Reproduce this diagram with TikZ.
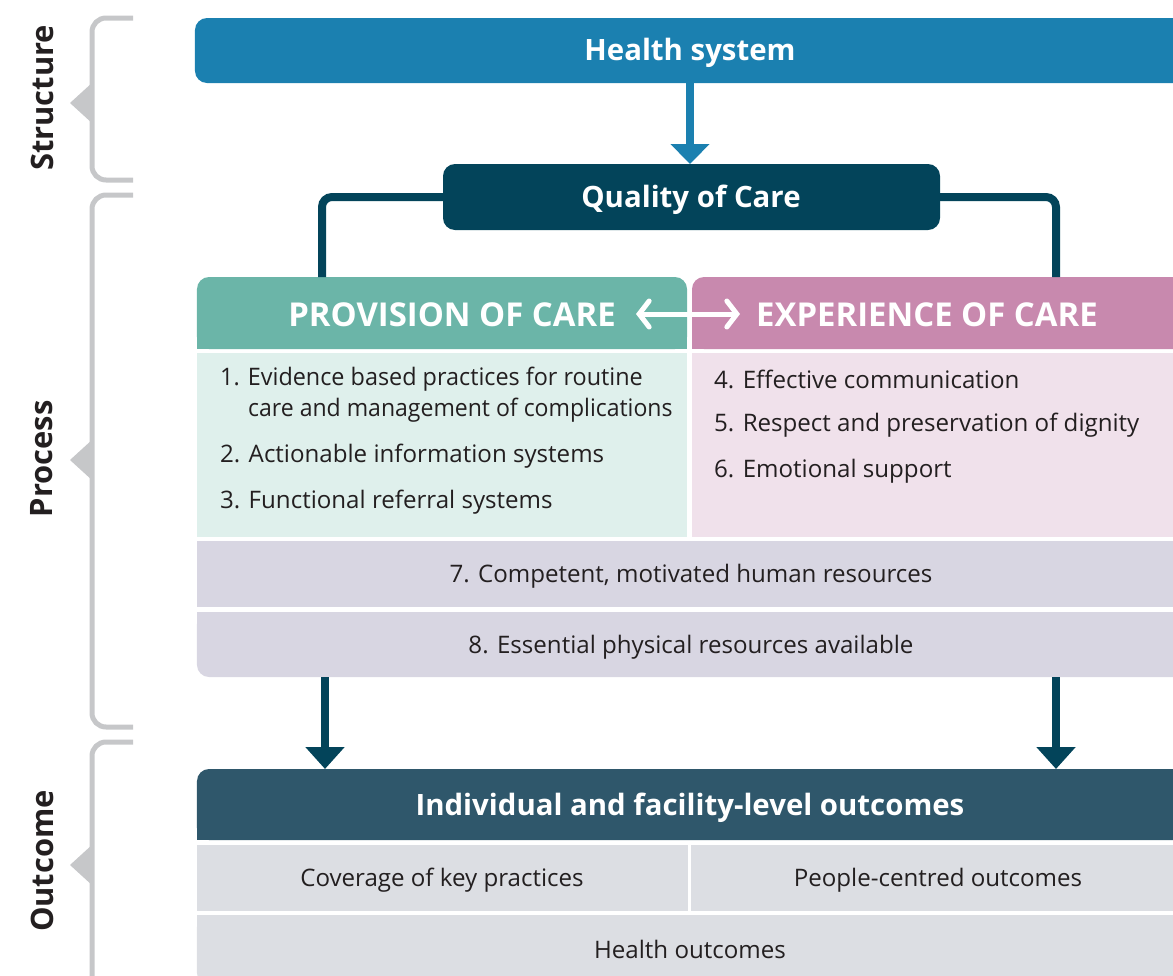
\documentclass[tikz,border=0pt]{standalone}
\usepackage{fontspec}
\setmainfont{Open Sans}
\usetikzlibrary{arrows.meta}
\definecolor{hsblue}{HTML}{1B80B0}
\definecolor{qcteal}{HTML}{03445A}
\definecolor{provc}{HTML}{6BB5A8}
\definecolor{expc}{HTML}{C889AE}
\definecolor{provl}{HTML}{DFF0EC}
\definecolor{expl}{HTML}{F0E1EB}
\definecolor{resc}{HTML}{D8D6E2}
\definecolor{outc}{HTML}{2F576B}
\definecolor{outl}{HTML}{DCDEE3}
\definecolor{brk}{HTML}{C6C7C9}
\definecolor{txt}{HTML}{231F20}
\tikzset{
  box/.style={rectangle, draw=none, inner sep=0pt, outer sep=0pt},
  headtxt/.style={font=\fontsize{29.5}{34}\selectfont\bfseries, text=white, inner sep=0pt},
  captxt/.style={font=\fontsize{33}{38}\selectfont\bfseries, text=white, inner sep=0pt},
  bodytxt/.style={font=\fontsize{24.2}{30}\selectfont, text=txt, inner sep=0pt},
  sidetxt/.style={font=\fontsize{31}{36}\selectfont\bfseries, text=txt, rotate=90, inner sep=0pt},
  bracket/.style={draw=brk, line width=5bp, rounded corners=14bp},
  conn/.style={draw=qcteal, line width=8bp, rounded corners=10bp},
  darrow/.style={draw=qcteal, line width=8bp, -{Triangle[width=38bp,length=22bp]}},
}
\begin{document}
\begin{tikzpicture}[x=1bp,y=-1bp]
\useasboundingbox (0,0) rectangle (1173,976);
\clip (0,0) rectangle (1173,976);

% brackets
\draw[bracket] (133,18) -- (92,18) -- (92,180) -- (133,180);
\fill[brk] (93,82) -- (70,103) -- (93,124) -- cycle;
\draw[bracket] (133,195) -- (92,195) -- (92,727) -- (133,727);
\fill[brk] (93,439) -- (70,460) -- (93,481) -- cycle;
\draw[bracket] (133,742) -- (92,742) -- (92,990) -- (133,990);
\fill[brk] (93,844) -- (70,865) -- (93,886) -- cycle;

\node[sidetxt] (lstruct) at (42,98) {Structure};
\node[sidetxt] (lproc) at (42,459) {Process};
\node[sidetxt] (lout) at (42,861) {Outcome};

% health system
\node[box, fill=hsblue, rounded corners=12bp, minimum width=990bp, minimum height=65bp] (hs) at (690,50.5) {};
\node[headtxt] (hst) at (690,53) {Health system};

% quality of care
\node[box, fill=qcteal, rounded corners=12bp, minimum width=497bp, minimum height=66bp] (qc) at (691.5,197) {};
\node[headtxt] (qct) at (691,200) {Quality of Care};

% provision / experience headers
\node[box, fill=provc, rounded corners=12bp, minimum width=490bp, minimum height=72bp] (prov) at (442,313) {};
\fill[provc] (prov.west) rectangle (prov.south east);
\node[box, fill=expc, rounded corners=12bp, minimum width=493bp, minimum height=72bp] (exp) at (938.5,313) {};
\fill[expc] (exp.west) rectangle (exp.south east);
\fill[expc] (exp.north) rectangle (exp.south east);
\node[captxt] (provt) at (452,315) {PROVISION OF CARE};
\node[captxt] (expt) at (927,315) {EXPERIENCE OF CARE};

% bodies
\node[box, fill=provl, minimum width=490bp, minimum height=184bp] (provb) at (442,445) {};
\node[box, fill=expl, minimum width=493bp, minimum height=184bp] (expb) at (938.5,445) {};
\node[bodytxt, anchor=west] (p1) at (220,379) {\scalebox{0.97}[1]{1. Evidence based practices for routine}};
\node[bodytxt, anchor=west] (p1b) at (248,410) {\scalebox{0.955}[1]{care and management of complications}};
\node[bodytxt, anchor=west] (p2) at (220,456) {2. Actionable information systems};
\node[bodytxt, anchor=west] (p3) at (220,502) {3. Functional referral systems};
\node[bodytxt, anchor=west] (e4) at (714,379) {4. Effective communication};
\node[bodytxt, anchor=west] (e5) at (714,425) {5. Respect and preservation of dignity};
\node[bodytxt, anchor=west] (e6) at (714,471) {6. Emotional support};

% resources
\node[box, fill=resc, minimum width=988bp, minimum height=66bp] (r7) at (691,574) {};
\node[bodytxt] (r7t) at (691,576) {7. Competent, motivated human resources};
\node[box, fill=resc, rounded corners=12bp, minimum width=988bp, minimum height=65bp] (r8) at (691,644.5) {};
\fill[resc] (r8.north west) rectangle (r8.east);
\fill[resc] (r8.north) rectangle (r8.south east);
\node[bodytxt] (r8t) at (691,647) {8. Essential physical resources available};

% outcomes
\node[box, fill=outc, rounded corners=12bp, minimum width=988bp, minimum height=71bp] (out) at (691,804.5) {};
\fill[outc] (out.west) rectangle (out.south east);
\fill[outc] (out.north) rectangle (out.south east);
\node[headtxt] (outt) at (690,807.5) {Individual and facility-level outcomes};
\node[box, fill=outl, minimum width=491bp, minimum height=66bp] (cov) at (442.5,878) {};
\node[bodytxt] (covt) at (442,880) {Coverage of key practices};
\node[box, fill=outl, minimum width=494bp, minimum height=66bp] (pc) at (938,878) {};
\node[bodytxt] (pct) at (938,880) {People-centred outcomes};
\node[box, fill=outl, rounded corners=12bp, minimum width=988bp, minimum height=70bp] (ho) at (691,950) {};
\fill[outl] (ho.north west) rectangle (ho.east);
\fill[outl] (ho.north) rectangle (ho.south east);
\node[bodytxt] (hot) at (690,949) {Health outcomes};

% connectors
\draw[darrow, draw=hsblue, -{Triangle[width=38bp,length=20bp]}, hsblue] (hs.south) -- (hs.south |- qc.north);
\draw[conn] (qc.west) -| ([xshift=-120bp]prov.north);
\draw[conn] (qc.east) -| ([xshift=117.5bp]exp.north);
\coordinate (dl) at (636,314);
\coordinate (dr) at (740,314);
\draw[white, line width=5bp, {Straight Barb[length=10bp,width=26bp,line cap=round]}-{Straight Barb[length=10bp,width=26bp,line cap=round]}] (dl) -- (dr);
\draw[darrow] ([xshift=-366bp]r8.south) -- ([xshift=-366bp]out.north);
\draw[darrow] ([xshift=365bp]r8.south) -- ([xshift=365bp]out.north);
\end{tikzpicture}
\end{document}
